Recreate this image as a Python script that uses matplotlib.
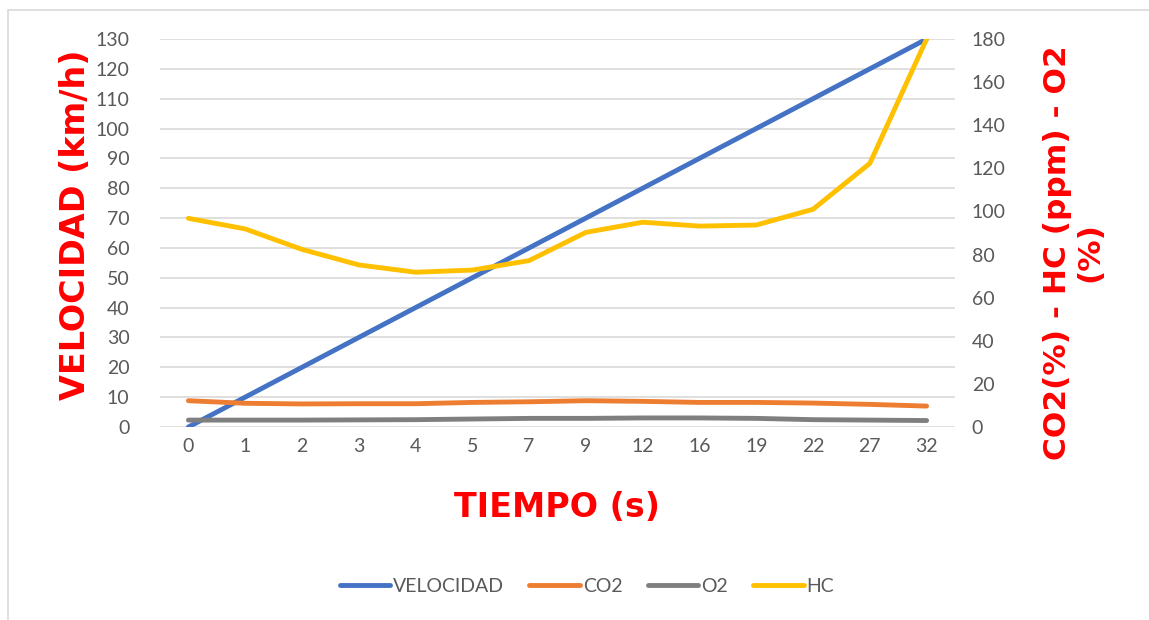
import matplotlib.pyplot as plt
from matplotlib.patches import Rectangle

# Categories (time in seconds) shown as evenly spaced labels
tiempo = ["0", "1", "2", "3", "4", "5", "7", "9", "12", "16", "19", "22", "27", "32"]

# Primary axis: speed (km/h)
velocidad = [0, 10, 20, 30, 40, 50, 60, 70, 80, 90, 100, 110, 120, 130]

# Secondary axis: CO2 (%), O2 (%), HC (ppm)
co2 = [12.2, 11.0, 10.7, 10.8, 10.8, 11.4, 11.7, 12.2, 11.9, 11.4, 11.4, 11.1, 10.5, 9.7]
o2 = [3.2, 3.2, 3.2, 3.3, 3.4, 3.7, 4.0, 4.0, 4.2, 4.2, 4.0, 3.4, 3.2, 3.0]
hc = [96.8, 91.9, 82.4, 75.2, 71.8, 72.8, 77.2, 90.3, 95.0, 93.2, 93.7, 101.0, 122.3, 180.0]

colors = ["#4472C4", "#ED7D31", "#7F7F7F", "#FFC000"]
tick_color = "#595959"
tick_font = "Lato"

fig = plt.figure(figsize=(11.49, 6.2), dpi=100)
ax = fig.add_axes([160 / 1149, 1 - 427 / 620, 795 / 1149, 388 / 620])
ax2 = ax.twinx()

x = list(range(len(tiempo)))
l1, = ax.plot(x, velocidad, color=colors[0], lw=3.5, solid_capstyle="round", label="VELOCIDAD")
l2, = ax2.plot(x, co2, color=colors[1], lw=3.5, solid_capstyle="round", label="CO2")
l3, = ax2.plot(x, o2, color=colors[2], lw=3.5, solid_capstyle="round", label="O2")
l4, = ax2.plot(x, hc, color=colors[3], lw=3.5, solid_capstyle="round", label="HC")

ax.set_xlim(-0.5, len(tiempo) - 0.5)
ax.set_ylim(0, 130)
ax2.set_ylim(0, 180)
ax.set_yticks(range(0, 131, 10))
ax2.set_yticks(range(0, 181, 20))
ax.set_xticks(x)
ax.set_xticklabels(tiempo)

ax.grid(axis="y", color="#D9D9D9", lw=1.2)
ax.set_axisbelow(True)
for a in (ax, ax2):
    for s in a.spines.values():
        s.set_visible(False)
    a.tick_params(length=0, colors=tick_color, labelsize=14)
    for lab in a.get_xticklabels() + a.get_yticklabels():
        lab.set_fontfamily(tick_font)
ax.tick_params(axis="y", pad=22)
ax.tick_params(axis="x", pad=8)
ax2.tick_params(axis="y", pad=12)

ax.set_ylabel("VELOCIDAD (km/h)", color="red", fontsize=24, fontweight="bold",
              family="DejaVu Sans")
ax.yaxis.set_label_coords(-0.086, 0.52)
ax2.set_ylabel("CO2(%) - HC (ppm) - O2\n(%)", color="red", fontsize=22.5, fontweight="bold",
               family="DejaVu Sans", linespacing=1.15)
ax2.yaxis.set_label_coords(1.111, 0.45)
ax.set_xlabel("TIEMPO (s)", color="red", fontsize=24, fontweight="bold",
              family=["Liberation Sans Narrow", "DejaVu Sans"], labelpad=26)

leg = fig.legend(handles=[l1, l2, l3, l4], loc="center", bbox_to_anchor=(587 / 1149, 1 - 586 / 620),
                 ncol=4, frameon=False, handlelength=2.6, handletextpad=0.15, columnspacing=1.3,
                 prop={"family": tick_font, "size": 14})
for t in leg.get_texts():
    t.set_color(tick_color)

# light chart border (partly cut off at right and bottom)
fig.patches.append(Rectangle((8 / 1149, -0.1), 1.2, 1 - 10 / 620 + 0.1, transform=fig.transFigure,
                             fill=False, edgecolor="#D9D9D9", lw=1.2))

fig.savefig("out.png", dpi=100)
